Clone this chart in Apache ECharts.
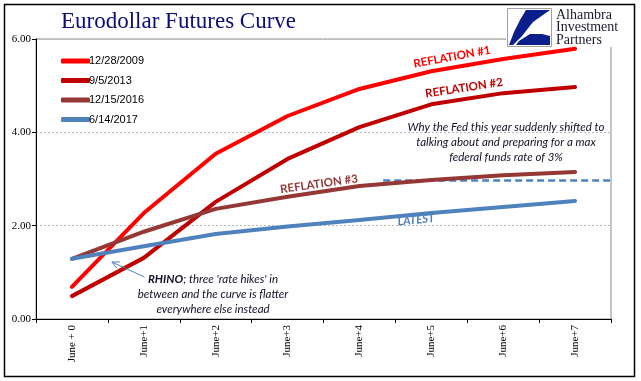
<!DOCTYPE html>
<html><head><meta charset="utf-8">
<script src="https://cdn.jsdelivr.net/npm/echarts@6/dist/echarts.min.js"></script>
<style>html,body{margin:0;padding:0;background:#fff}#c{width:641px;height:381px}</style>
</head><body><div id="c"></div>
<script>
const categories = ['June + 0','June+1','June+2','June+3','June+4','June+5','June+6','June+7'];
const seriesNames = ['12/28/2009','9/5/2013','12/15/2016','6/14/2017'];
const s2009 = [0.69, 2.27, 3.54, 4.35, 4.93, 5.31, 5.57, 5.79];
const s2013 = [0.49, 1.31, 2.51, 3.43, 4.11, 4.60, 4.84, 4.97];
const s2016 = [1.29, 1.87, 2.36, 2.62, 2.85, 2.98, 3.08, 3.15];
const s2017 = [1.29, 1.56, 1.82, 1.98, 2.12, 2.27, 2.40, 2.53];
const yTicks = [0, 2, 4, 6];
const maxFedLine = [[4.33, 2.97], [7.5, 2.97]];
const arrowLine = [[1.01, 0.90], [0.556, 1.22]];
const colors = ['#FF0000', '#C00000', '#953735', '#4F81BD'];

const chart = echarts.init(document.getElementById('c'), null, {renderer: 'canvas'});
const annoFont = 'Lato';
const mkSeries = (name, data, color) => ({
  name, type: 'line', data, xAxisIndex: 0, yAxisIndex: 0,
  symbol: 'none', lineStyle: {color, width: 4, cap: 'round', join: 'round'},
  itemStyle: {color}, z: 3
});
const option = {
  animation: false,
  backgroundColor: '#fff',
  title: {
    text: 'Eurodollar Futures Curve', left: 56, top: 5,
    textStyle: {fontFamily: 'Liberation Serif', fontSize: 23, fontWeight: 'normal', color: '#0c0c7a'}
  },
  grid: {left: 36, right: 30, top: 39, bottom: 62, show: true, borderColor: '#8c8c8c', borderWidth: 1, backgroundColor: 'transparent'},
  legend: {
    orient: 'vertical', left: 56, top: 50, itemGap: 7.5, itemWidth: 29, itemHeight: 5,
    icon: 'roundRect',
    data: seriesNames,
    textStyle: {fontFamily: 'Liberation Sans', fontSize: 11, color: '#000', lineHeight: 12, padding: [0,0,0,-6]}
  },
  xAxis: [{
    type: 'category', data: categories, boundaryGap: true,
    axisLine: {onZero: false, lineStyle: {color: '#000', width: 1}},
    axisTick: {show: true, length: 4, alignWithLabel: false, lineStyle: {color: '#000'}},
    axisLabel: {rotate: 90, margin: 6, fontFamily: 'Liberation Serif', fontSize: 11, color: '#000'},
    splitLine: {show: false}
  }, {
    type: 'value', min: -0.5, max: 7.5, show: false
  }],
  yAxis: {
    type: 'value', min: 0, max: 6, interval: 2,
    axisLine: {show: true, onZero: false, lineStyle: {color: '#000', width: 1}},
    axisTick: {show: true, length: 4, lineStyle: {color: '#000'}},
    axisLabel: {margin: 5, fontFamily: 'Liberation Serif', fontSize: 11, color: '#000',
      formatter: v => yTicks.includes(v) ? v.toFixed(2) : ''},
    splitLine: {show: true, lineStyle: {color: '#b8b8b8', type: [2, 2], width: 1}}
  },
  series: [
    mkSeries(seriesNames[0], s2009, colors[0]),
    mkSeries(seriesNames[1], s2013, colors[1]),
    mkSeries(seriesNames[2], s2016, colors[2]),
    mkSeries(seriesNames[3], s2017, colors[3]),
    {
      name: 'maxfed', type: 'line', xAxisIndex: 1, yAxisIndex: 0, data: maxFedLine,
      symbol: 'none', lineStyle: {color: '#4F81BD', width: 2.5, type: [7, 4]}, z: 2, silent: true
    }
  ],
  graphic: [
    {type: 'rect', shape: {x: 4.5, y: 4.5, width: 630, height: 372}, style: {fill: null, stroke: '#000', lineWidth: 1.5}, z: 10},
    {type: 'rect', shape: {x: 506, y: 5, width: 127, height: 42}, style: {fill: '#fff'}, z: 1},
    {type: 'rect', shape: {x: 507.5, y: 8.5, width: 44, height: 38}, style: {fill: '#fff', stroke: '#a0a0a0', lineWidth: 1}, z: 11},
    {type: 'polygon', shape: {points: [[526,10],[550,10],[533,22],[522,36],[513,45],[509,45],[514,32],[520,20]]}, style: {fill: '#0a1e8c'}, z: 12},
    {type: 'polygon', shape: {points: [[519,41],[530,34],[542,34],[550,36],[550,45],[516,45]]}, style: {fill: '#0a1e8c'}, z: 12},
    {type: 'text', x: 556, y: 9, style: {text: 'Alhambra\nInvestment\nPartners', fontFamily: 'Liberation Serif', fontSize: 14, lineHeight: 12.5, fill: '#1a1a2e'}, z: 12},
    {type: 'text', x: 452, y: 57, rotation: 0.18, style: {text: 'REFLATION #1', fontFamily: annoFont, fontWeight: 'bold', fontSize: 11.5, fill: '#FF0000', align: 'center', verticalAlign: 'middle'}, z: 5},
    {type: 'text', x: 464, y: 88, rotation: 0.15, style: {text: 'REFLATION #2', fontFamily: annoFont, fontWeight: 'bold', fontSize: 11.5, fill: '#C00000', align: 'center', verticalAlign: 'middle'}, z: 5},
    {type: 'text', x: 319, y: 184, rotation: 0.14, style: {text: 'REFLATION #3', fontFamily: annoFont, fontWeight: 'bold', fontSize: 11.5, fill: '#953735', align: 'center', verticalAlign: 'middle'}, z: 5},
    {type: 'text', x: 416, y: 220, rotation: 0.1, style: {text: 'LATEST', fontFamily: annoFont, fontWeight: 'bold', fontStyle: 'italic', fontSize: 11.5, fill: '#4F81BD', align: 'center', verticalAlign: 'middle'}, z: 5},
    {type: 'text', x: 506, y: 142, style: {text: 'Why the Fed this year suddenly shifted to\ntalking about and preparing for a max\nfederal funds rate of 3%', fontFamily: annoFont, fontStyle: 'italic', fontSize: 11.5, lineHeight: 15, fill: '#10102a', align: 'center', verticalAlign: 'middle'}, z: 5},
    {type: 'text', x: 213, y: 294, style: {text: '{b|RHINO}; three \'rate hikes\' in\nbetween and the curve is flatter\neverywhere else instead', fontFamily: annoFont, fontStyle: 'italic', fontSize: 11.5, lineHeight: 15, fill: '#10102a', align: 'center', verticalAlign: 'middle',
      rich: {b: {fontFamily: annoFont, fontStyle: 'italic', fontWeight: 'bold', fontSize: 11.5, fill: '#10102a', lineHeight: 15}}}, z: 5}
  ]
};
chart.setOption(option);
// arrow via library's coordinate conversion
const p0 = chart.convertToPixel({xAxisIndex: 1, yAxisIndex: 0}, arrowLine[0]);
const p1 = chart.convertToPixel({xAxisIndex: 1, yAxisIndex: 0}, arrowLine[1]);
const ang = Math.atan2(p1[1] - p0[1], p1[0] - p0[0]);
const hl = 8, ha = 0.45;
const h1 = [p1[0] - hl * Math.cos(ang - ha), p1[1] - hl * Math.sin(ang - ha)];
const h2 = [p1[0] - hl * Math.cos(ang + ha), p1[1] - hl * Math.sin(ang + ha)];
const g = option.graphic.slice();
g.push({type: 'polyline', shape: {points: [p0, p1]}, style: {stroke: '#4F81BD', lineWidth: 1}, z: 6});
g.push({type: 'polyline', shape: {points: [h1, p1, h2]}, style: {stroke: '#4F81BD', lineWidth: 1, fill: null}, z: 6});
chart.setOption({graphic: g}, {replaceMerge: ['graphic']});
</script></body></html>
